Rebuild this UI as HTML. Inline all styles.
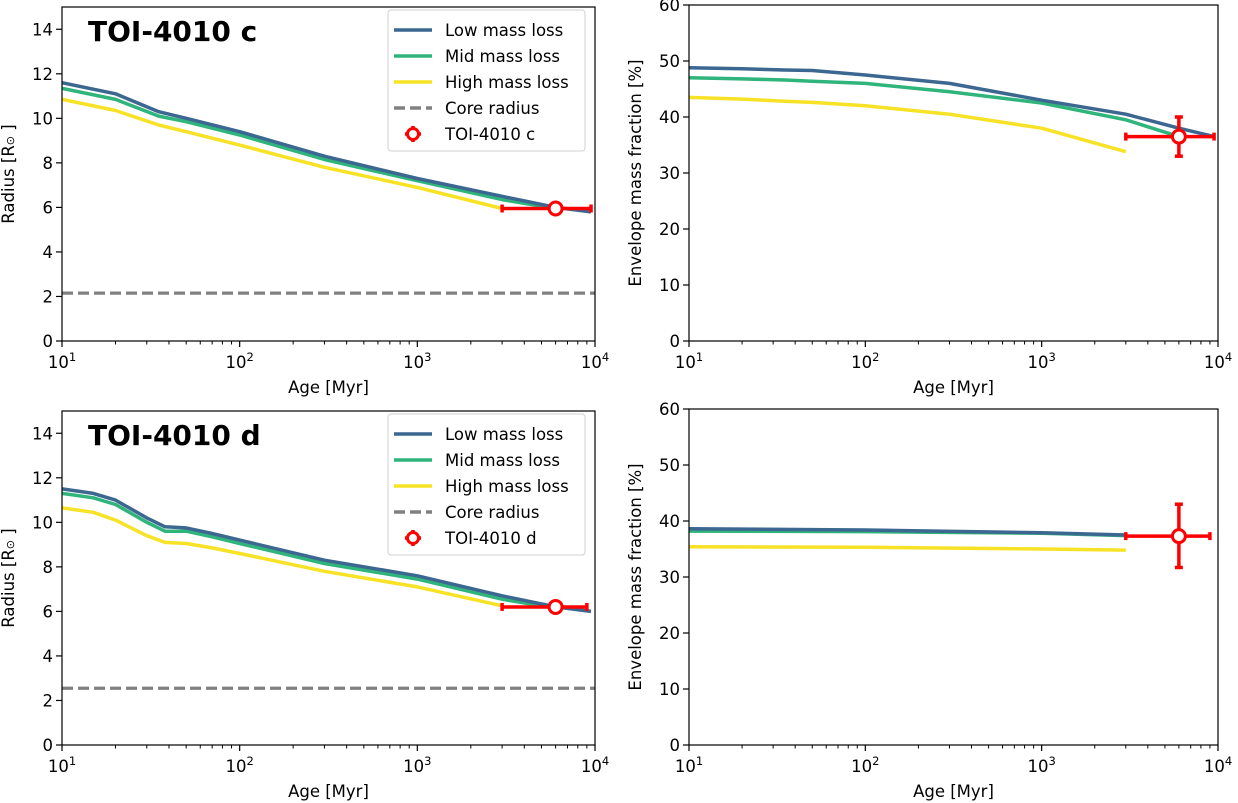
<!DOCTYPE html>
<html><head><meta charset="utf-8"><style>
body{margin:0;background:#fff}
svg{display:block;font-family:"DejaVu Sans","Liberation Sans",sans-serif}
</style></head><body>
<svg id="fig" width="1238" height="803" viewBox="0 0 1238 803"></svg>
<script>
// ---- data ----
const xTickExps = [1,2,3,4];
const radiusTicks = [0,2,4,6,8,10,12,14];
const envTicks = [0,10,20,30,40,50,60];
const seriesNames = ["Low mass loss","Mid mass loss","High mass loss"];
const seriesColors = ["#3b6790","#2fb47c","#f7e225"];

const cAgeLow = [10,20,35,50,100,300,1000,3000,6000,9500];
const cRadLow = [11.6,11.1,10.3,10.0,9.4,8.3,7.3,6.5,6.0,5.8];
const cAgeMid = [10,20,35,50,100,300,1000,3000,6000];
const cRadMid = [11.35,10.85,10.1,9.85,9.25,8.15,7.2,6.35,5.95];
const cAgeHigh = [10,20,35,50,100,300,1000,3000];
const cRadHigh = [10.85,10.35,9.7,9.4,8.8,7.8,6.9,5.95];
const cCore = 2.15;
const cObs = {age:6000, ageLo:3000, ageHi:9500, rad:5.95, env:36.5, envLo:33, envHi:40};
const cEnvLow = [48.8,48.6,48.4,48.3,47.5,46,43,40.5,38,36.5];
const cEnvMid = [47,46.8,46.6,46.4,46,44.5,42.5,39.5,36.5];
const cEnvHigh = [43.5,43.2,42.8,42.6,42,40.5,38,33.8];

const dAgeLow = [10,15,20,30,38,50,70,100,300,1000,3000,6000,9500];
const dRadLow = [11.5,11.3,11.0,10.2,9.8,9.75,9.5,9.2,8.3,7.6,6.7,6.2,6.0];
const dRadMid = [11.3,11.1,10.8,10.0,9.6,9.6,9.35,9.05,8.15,7.45,6.55,6.15];
const dAgeHigh = [10,15,20,30,38,50,70,100,300,1000,3000];
const dRadHigh = [10.65,10.45,10.1,9.4,9.1,9.05,8.85,8.6,7.8,7.1,6.25];
const dCore = 2.55;
const dObs = {age:6000, ageLo:3000, ageHi:9000, rad:6.2, env:37.3, envLo:31.7, envHi:43};
const dEnvAge = [10,100,1000,3000];
const dEnvLow = [38.6,38.4,37.9,37.5];
const dEnvMid = [38.2,38.1,37.8,37.4];
const dEnvHigh = [35.4,35.3,35.0,34.8];

// ---- drawing ----
const NS="http://www.w3.org/2000/svg";
const svg=document.getElementById('fig');
function mk(tag,attrs,parent){const e=document.createElementNS(NS,tag);for(const k in attrs)e.setAttribute(k,attrs[k]);(parent||svg).appendChild(e);return e;}

function panel(p){
  const g=mk('g',{});
  
  
  const xs=a=>p.x0+(Math.log10(a)-1)/3*(p.x1-p.x0);
  const ys=v=>p.y1-(v/p.ymax)*(p.y1-p.y0);
  for(let e=1;e<4;e++)for(let m=2;m<10;m++){const x=xs(m*Math.pow(10,e));mk('line',{x1:x,x2:x,y1:p.y1,y2:p.y1+3.5,stroke:'#000','stroke-width':1},g);}
  xTickExps.forEach(e=>{const x=xs(Math.pow(10,e));mk('line',{x1:x,x2:x,y1:p.y1,y2:p.y1+6,stroke:'#000','stroke-width':1.2},g);
    const t=mk('text',{x:x,y:p.y1+27,'text-anchor':'middle','font-size':16.5},g);t.textContent='10';
    const s=mk('tspan',{dy:-7,'font-size':11.5},t);s.textContent=e;
    });
  p.yt.forEach(v=>{const y=ys(v);mk('line',{x1:p.x0-6,x2:p.x0,y1:y,y2:y,stroke:'#000','stroke-width':1.2},g);
    const t=mk('text',{x:p.x0-9,y:y+6,'text-anchor':'end','font-size':16.5},g);t.textContent=v;
    });
  const xl=mk('text',{x:(p.x0+p.x1)/2,y:p.y1+52,'text-anchor':'middle','font-size':16.5},g);xl.textContent='Age [Myr]';
  
  const yl=mk('text',{transform:`translate(${p.x0-48},${(p.y0+p.y1)/2}) rotate(-90)`,'text-anchor':'middle','font-size':16.5},g);
  yl.textContent=p.ylabel;
  if(p.sun){const s=mk('tspan',{'font-size':11},yl);s.textContent='⊙';const s2=mk('tspan',{},yl);s2.textContent=' ]';}
  
  const cid='c'+p.name;const cp=mk('clipPath',{id:cid},g);mk('rect',{x:p.x0,y:p.y0,width:p.x1-p.x0,height:p.y1-p.y0},cp);
  const pg=mk('g',{'clip-path':`url(#${cid})`},g);
  if(p.core!==undefined){const l=mk('line',{x1:p.x0,x2:p.x1,y1:ys(p.core),y2:ys(p.core),stroke:'#808080','stroke-width':3.2,'stroke-dasharray':'11,5'},pg);
    }
  p.series.slice().reverse().forEach((s,ri)=>{const i=2-ri;
    const pts=s.age.map((a,k)=>xs(a).toFixed(1)+','+ys(s.val[k]).toFixed(1)).join(' ');
    const l=mk('polyline',{points:pts,fill:'none',stroke:seriesColors[i],'stroke-width':3.5,'stroke-linejoin':'round'},pg);
    });
  const o=p.obs;const ox=xs(o.age),oy=ys(o.v);
  const og=mk('g',{},g);
  mk('line',{x1:xs(o.lo),x2:xs(o.hi),y1:oy,y2:oy,stroke:'#f00','stroke-width':3.5},og);
  [o.lo,o.hi].forEach(a=>mk('line',{x1:xs(a),x2:xs(a),y1:oy-4,y2:oy+4,stroke:'#f00','stroke-width':3.5},og));
  if(o.vlo!==undefined){mk('line',{x1:ox,x2:ox,y1:ys(o.vlo),y2:ys(o.vhi),stroke:'#f00','stroke-width':3.5},og);
    [o.vlo,o.vhi].forEach(v=>mk('line',{x1:ox-4,x2:ox+4,y1:ys(v),y2:ys(v),stroke:'#f00','stroke-width':3.5},og));}
  mk('circle',{cx:ox,cy:oy,r:6.5,fill:'#fff',stroke:'#f00','stroke-width':3},og);
  mk('rect',{x:p.x0,y:p.y0,width:p.x1-p.x0,height:p.y1-p.y0,fill:'none',stroke:'#000','stroke-width':1.2},g);
  if(p.title){const t=mk('text',{x:p.x0+26,y:p.y0+34,'font-size':28,'font-weight':'bold'},g);t.textContent=p.title;
    
    const lg=mk('g',{},g);
    const lx=p.x1-207,ly=p.y0+3;
    mk('rect',{x:lx,y:ly,width:197,height:141,rx:3,fill:'#fff',stroke:'#d0d0d0','stroke-width':1},lg);
    const labels=seriesNames.concat(['Core radius',p.title]);
    labels.forEach((lab,i)=>{const y=ly+20+i*26;
      if(i<3)mk('line',{x1:lx+6,x2:lx+44,y1:y,y2:y,stroke:seriesColors[i],'stroke-width':3.5},lg);
      else if(i==3)mk('line',{x1:lx+6,x2:lx+44,y1:y,y2:y,stroke:'#808080','stroke-width':3.5,'stroke-dasharray':'11,5'},lg);
      else{mk('line',{x1:lx+25,x2:lx+25,y1:y-8,y2:y+8,stroke:'#f00','stroke-width':3.5},lg);mk('line',{x1:lx+17,x2:lx+33,y1:y,y2:y,stroke:'#f00','stroke-width':3.5},lg);mk('circle',{cx:lx+25,cy:y,r:5.5,fill:'#fff',stroke:'#f00','stroke-width':3},lg);}
      const t=mk('text',{x:lx+57,y:y+6,'font-size':16.5},lg);t.textContent=lab;
      });
  }
}
const L={x0:62,x1:595},R={x0:689,x1:1218};
panel({name:'radius-panel-c',x0:L.x0,x1:L.x1,y0:7,y1:341,ymax:15,yt:radiusTicks,ylabel:'Radius [R',sun:true,title:'TOI-4010 c',core:cCore,
  series:[{age:cAgeLow,val:cRadLow},{age:cAgeMid,val:cRadMid},{age:cAgeHigh,val:cRadHigh}],
  obs:{age:cObs.age,lo:cObs.ageLo,hi:cObs.ageHi,v:cObs.rad}});
panel({name:'envelope-panel-c',x0:R.x0,x1:R.x1,y0:5,y1:341,ymax:60,yt:envTicks,ylabel:'Envelope mass fraction [%]',
  series:[{age:cAgeLow,val:cEnvLow},{age:cAgeMid,val:cEnvMid},{age:cAgeHigh,val:cEnvHigh}],
  obs:{age:cObs.age,lo:cObs.ageLo,hi:cObs.ageHi,v:cObs.env,vlo:cObs.envLo,vhi:cObs.envHi}});
panel({name:'radius-panel-d',x0:L.x0,x1:L.x1,y0:411,y1:745,ymax:15,yt:radiusTicks,ylabel:'Radius [R',sun:true,title:'TOI-4010 d',core:dCore,
  series:[{age:dAgeLow,val:dRadLow},{age:dAgeLow.slice(0,12),val:dRadMid},{age:dAgeHigh,val:dRadHigh}],
  obs:{age:dObs.age,lo:dObs.ageLo,hi:dObs.ageHi,v:dObs.rad}});
panel({name:'envelope-panel-d',x0:R.x0,x1:R.x1,y0:409,y1:745,ymax:60,yt:envTicks,ylabel:'Envelope mass fraction [%]',
  series:[{age:dEnvAge,val:dEnvLow},{age:dEnvAge,val:dEnvMid},{age:dEnvAge,val:dEnvHigh}],
  obs:{age:dObs.age,lo:dObs.ageLo,hi:dObs.ageHi,v:dObs.env,vlo:dObs.envLo,vhi:dObs.envHi}});
</script>
</body></html>
